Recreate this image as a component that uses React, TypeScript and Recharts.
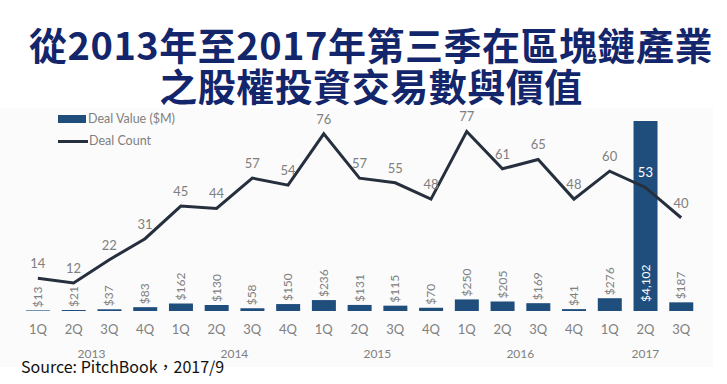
import {
  ComposedChart,
  Bar,
  Line,
  XAxis,
  YAxis,
  LabelList,
} from "recharts";

const quarters = ["1Q", "2Q", "3Q", "4Q", "1Q", "2Q", "3Q", "4Q", "1Q", "2Q", "3Q", "4Q", "1Q", "2Q", "3Q", "4Q", "1Q", "2Q", "3Q"];
const years = ["2013", "2014", "2015", "2016", "2017"];
const quartersPerYear = [4, 4, 4, 4, 3];
const dealValue = [13, 21, 37, 83, 162, 130, 58, 150, 236, 131, 115, 70, 250, 205, 169, 41, 276, 4102, 187];
const dealCount = [14, 12, 22, 31, 45, 44, 57, 54, 76, 57, 55, 48, 77, 61, 65, 48, 60, 53, 40];

const W = 727;
const H = 384;
const margin = { top: 121, right: 28, left: 20, bottom: 43 };
const band = (W - margin.left - margin.right) / quarters.length;

const BAR = "#1f4e7d";
const LINE = "#262f3d";
const GRAY = "#808080";
const FONT = "Lato, 'Noto Sans', sans-serif";

const data = quarters.map((q, i) => ({
  q,
  value: dealValue[i],
  count: dealCount[i],
}));

// first index of each year group
const yearStarts: number[] = [];
quartersPerYear.reduce((acc, n) => {
  yearStarts.push(acc);
  return acc + n;
}, 0);

function QuarterTick(props: any) {
  const { x, y, payload } = props;
  const i = payload.index;
  const yi = yearStarts.indexOf(i);
  return (
    <g>
      <text x={x} y={y + 15} textAnchor="middle" fontSize={13} fill={GRAY} fontFamily={FONT}>
        {payload.value}
      </text>
      {yi >= 0 && (
        <text
          x={x + ((quartersPerYear[yi] - 1) / 2) * band}
          y={y + 39}
          textAnchor="middle"
          fontSize={12}
          fill={GRAY}
          fontFamily={FONT}
        >
          {years[yi]}
        </text>
      )}
    </g>
  );
}

function ValueLabel(props: any) {
  const { x, y, width, height, value } = props;
  const cx = x + width / 2;
  const big = value > 1000;
  const ty = big ? y + height - 9 : y - 3;
  return (
    <text
      transform={`translate(${cx + 4},${ty}) rotate(-90)`}
      textAnchor="start"
      fontSize={12}
      fill={big ? "#ffffff" : GRAY}
      fontFamily={FONT}
    >
      {"$" + value.toLocaleString("en-US")}
    </text>
  );
}

function CountLabel(props: any) {
  const { x, y, value, index } = props;
  const inside = dealValue[index] > 1000;
  return (
    <text x={x} y={y - 10} textAnchor="middle" fontSize={13} fill={inside ? "#ffffff" : GRAY} fontFamily={FONT}>
      {value}
    </text>
  );
}

function LegendBox() {
  return (
    <div style={{ position: "absolute", left: 58, top: 108, fontFamily: FONT, fontSize: 12.5, color: GRAY, lineHeight: "22px" }}>
      <div style={{ display: "flex", alignItems: "center" }}>
        <span style={{ display: "inline-block", width: 28, height: 8, background: BAR, marginRight: 2 }} />
        Deal Value ($M)
      </div>
      <div style={{ display: "flex", alignItems: "center" }}>
        <span style={{ display: "inline-block", width: 30, height: 3, background: LINE, marginRight: 1 }} />
        Deal Count
      </div>
    </div>
  );
}

export default function App() {
  return (
    <div style={{ position: "fixed", left: 0, top: 0, width: W, height: H, background: "#fff", overflow: "hidden" }}>
      <div style={{ position: "absolute", left: 0, top: 108, width: 713, height: 259, background: "#fbfbfb" }} />
      <div
        style={{
          position: "absolute",
          left: 0,
          top: 23,
          width: W,
          textAlign: "center",
          fontFamily: "'Noto Sans CJK TC', sans-serif",
          fontWeight: 700,
          fontSize: 38,
          letterSpacing: 0.5,
          lineHeight: "41px",
          color: "#13266b",
          paddingLeft: 15,
          boxSizing: "border-box",
          whiteSpace: "nowrap",
        }}
      >
        <div>從2013年至2017年第三季在區塊鏈產業</div>
        <div>之股權投資交易數與價值</div>
      </div>
      <LegendBox />
      <div style={{ position: "absolute", left: 0, top: 0 }}>
        <ComposedChart width={W} height={H} data={data} margin={margin}>
          <XAxis
            dataKey="q"
            axisLine={false}
            tickLine={false}
            interval={0}
            height={30}
            tick={<QuarterTick />}
          />
          <YAxis yAxisId="v" hide domain={[0, 4102]} width={0} />
          <YAxis yAxisId="c" hide orientation="right" domain={[0, 81.5]} width={0} />
          <Bar yAxisId="v" dataKey="value" name="Deal Value ($M)" fill={BAR} barSize={24} isAnimationActive={false}>
            <LabelList dataKey="value" content={<ValueLabel />} />
          </Bar>
          <Line
            yAxisId="c"
            dataKey="count"
            name="Deal Count"
            stroke={LINE}
            strokeWidth={3}
            dot={false}
            type="linear"
            isAnimationActive={false}
          >
            <LabelList dataKey="count" content={<CountLabel />} />
          </Line>
        </ComposedChart>
      </div>
      <div
        style={{
          position: "absolute",
          left: 21,
          top: 356,
          fontFamily: "'Noto Sans CJK TC', sans-serif",
          fontSize: 16,
          color: "#111",
          lineHeight: "20px",
        }}
      >
        Source: PitchBook，2017/9
      </div>
    </div>
  );
}
